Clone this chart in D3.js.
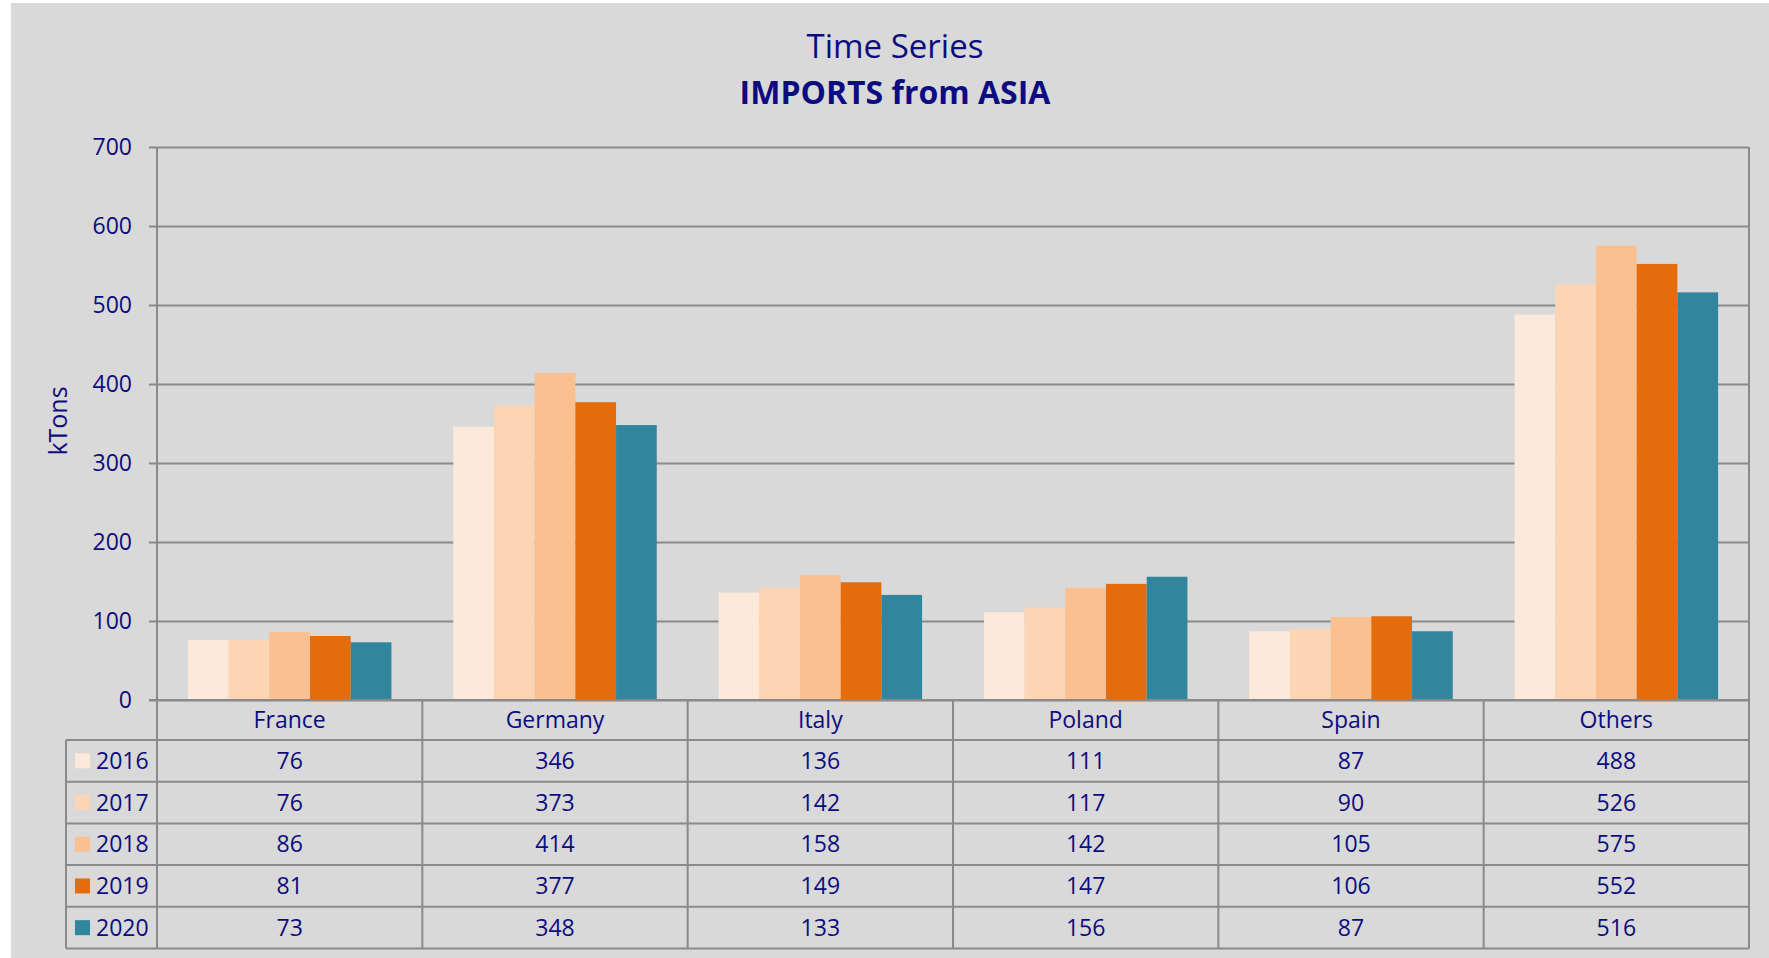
<!DOCTYPE html>
<html>
<head>
<meta charset="utf-8">
<script src="https://cdn.jsdelivr.net/npm/d3@7"></script>
<style>
  body { margin: 0; background: #fff; }
  svg text { font-family: "Open Sans", sans-serif; fill: #0c0c80; }
</style>
</head>
<body>
<svg id="chart" width="1769" height="958"></svg>
<script>
// data
var categories = ["France", "Germany", "Italy", "Poland", "Spain", "Others"]
var years = ["2016", "2017", "2018", "2019", "2020"]
var v2016 = [76, 346, 136, 111, 87, 488]
var v2017 = [76, 373, 142, 117, 90, 526]
var v2018 = [86, 414, 158, 142, 105, 575]
var v2019 = [81, 377, 149, 147, 106, 552]
var v2020 = [73, 348, 133, 156, 87, 516]
var yTicks = [0, 100, 200, 300, 400, 500, 600, 700]

var seriesValues = [v2016, v2017, v2018, v2019, v2020]
var colors = ["#FDE9D9", "#FCD5B5", "#FAC090", "#E46C0A", "#31859C"]

var svg = d3.select("#chart")
var plotL = 157, plotR = 1749, plotT = 147, plotB = 700
var tableLeft = 66, headerH = 40, rowH = 41.7
var lineCol = "#8a8a8a"

// background
svg.append("rect").attr("x", 11).attr("y", 3).attr("width", 1769 - 11).attr("height", 958 - 3).attr("fill", "#D9D9D9")

//////// scales
var x = d3.scaleBand().domain(categories).range([plotL, plotR]).padding(0)
var bw = x.bandwidth()
var gap = bw * 0.1165
var xi = d3.scaleBand().domain(years).range([gap, bw - gap]).padding(0)
var y = d3.scaleLinear().domain([0, 700]).range([plotB, plotT])

//////// gridlines + y labels
var yAxis = d3.axisLeft(y).tickValues(yTicks).tickSize(plotR - 149).tickPadding(17)
var gy = svg.append("g").attr("transform", "translate(" + plotR + ",0)").call(yAxis)
gy.select(".domain").remove()
gy.selectAll("line").attr("stroke", lineCol).attr("stroke-width", 2)
gy.selectAll("text").attr("font-size", 23).style("font-family", "'Open Sans', sans-serif").attr("fill", "#0c0c80")

//////// bars
var rows = []
categories.forEach(function (c, ci) {
    years.forEach(function (yr, yi) {
        rows.push({ cat: c, year: yr, yi: yi, value: seriesValues[yi][ci] })
    })
})
svg.append("g").selectAll("rect").data(rows).enter().append("rect")
    .attr("x", d => x(d.cat) + xi(d.year))
    .attr("width", xi.bandwidth())
    .attr("y", d => y(d.value))
    .attr("height", d => plotB - y(d.value))
    .attr("fill", d => colors[d.yi])

//////// table
var tableBottom = plotB + headerH + rowH * years.length
var gt = svg.append("g").attr("stroke", lineCol).attr("stroke-width", 2)
// axis line + right border
gt.append("line").attr("x1", plotL).attr("x2", plotL).attr("y1", plotT).attr("y2", tableBottom)
gt.append("line").attr("x1", plotR).attr("x2", plotR).attr("y1", plotT).attr("y2", tableBottom)
gt.append("line").attr("x1", tableLeft).attr("x2", tableLeft).attr("y1", plotB + headerH).attr("y2", tableBottom)
gt.append("line").attr("x1", 149).attr("x2", plotR).attr("y1", plotB).attr("y2", plotB)
categories.slice(1).forEach(function (c) {
    gt.append("line").attr("x1", x(c)).attr("x2", x(c)).attr("y1", plotB).attr("y2", tableBottom)
})
d3.range(years.length + 1).forEach(function (i) {
    var yy = plotB + headerH + i * rowH
    gt.append("line").attr("x1", tableLeft).attr("x2", plotR).attr("y1", yy).attr("y2", yy)
})

// category header
svg.append("g").selectAll("text").data(categories).enter().append("text")
    .attr("x", d => x(d) + bw / 2)
    .attr("y", plotB + headerH / 2)
    .attr("dy", "0.35em")
    .attr("text-anchor", "middle")
    .attr("font-size", 23)
    .text(d => d)

// legend column + values
years.forEach(function (yr, yi) {
    var cy = plotB + headerH + yi * rowH + rowH / 2
    svg.append("rect").attr("x", 75).attr("y", cy - 7.5).attr("width", 15).attr("height", 15).attr("fill", colors[yi])
    svg.append("text").attr("x", 96).attr("y", cy).attr("dy", "0.35em").attr("font-size", 23).text(yr)
    svg.append("g").selectAll("text").data(seriesValues[yi]).enter().append("text")
        .attr("x", (d, i) => x(categories[i]) + bw / 2)
        .attr("y", cy)
        .attr("dy", "0.35em")
        .attr("text-anchor", "middle")
        .attr("font-size", 23)
        .text(d => d)
})

//////// titles
svg.append("text").attr("x", 895).attr("y", 58).attr("text-anchor", "middle").attr("font-size", 33).text("Time Series")
svg.append("text").attr("x", 895).attr("y", 104).attr("text-anchor", "middle").attr("font-size", 32).attr("font-weight", "bold").text("IMPORTS from ASIA")
svg.append("text").attr("transform", "translate(58,421) rotate(-90)").attr("text-anchor", "middle").attr("dy", "0.35em").attr("font-size", 25).text("kTons")
</script>
</body>
</html>
